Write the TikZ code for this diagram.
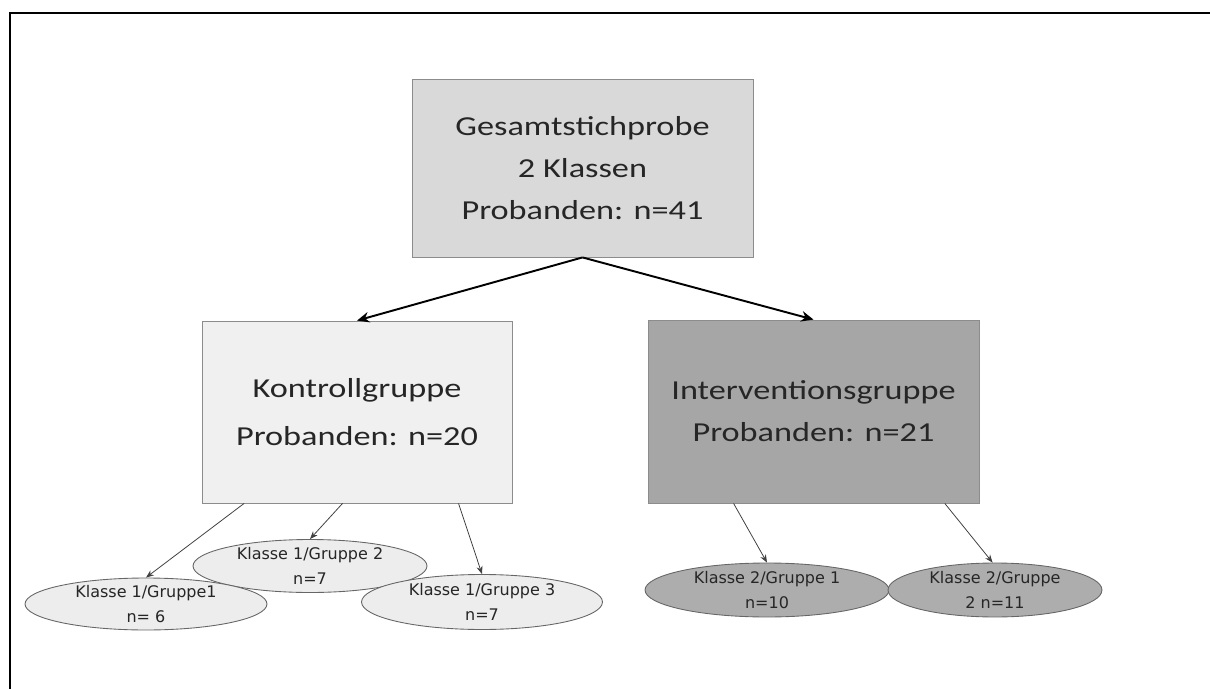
\documentclass[tikz,border=0pt]{standalone}
\usepackage{fontspec}
\usetikzlibrary{shapes.geometric,arrows.meta}
\newfontfamily\boxfont[FakeStretch=1.25]{Carlito}
\newfontfamily\ellfont{DejaVu Sans}

\begin{document}
\begin{tikzpicture}[x=0.02cm, y=-0.02cm,
		box/.style={draw=black!45, line width=0.5pt, text=black!85, align=center, inner sep=0pt, font=\boxfont\fontsize{15.6}{24}\selectfont},
		grp/.style={ellipse, draw=black!60, line width=0.5pt, text=black!85, align=center, inner xsep=0pt, inner ysep=-1.5pt, font=\ellfont\fontsize{9.1}{14.2}\selectfont},
		bigarrow/.style={line width=1.1pt, -{Stealth[length=7pt,width=6pt]}},
		smallarrow/.style={line width=0.45pt, color=black!75, -{Stealth[length=4.5pt,width=3.5pt]}}]
		%%%%% START %%%%%
		
		\useasboundingbox (0,0) rectangle (1210,689);
		\draw[line width=1pt] (10,689) -- (10,13) -- (1210,13);
		
		\node[box, fill=black!15, minimum width=6.82cm, minimum height=3.56cm] (gesamt) at (582.5,168) {Gesamtstichprobe\\2 Klassen\\Probanden: n=41};
		
		\node[box, fill=black!6, minimum width=6.2cm, minimum height=3.64cm, font=\boxfont\fontsize{15.6}{27}\selectfont] (kontroll) at (357,412) {Kontrollgruppe\\Probanden: n=20};
		\node[box, fill=black!35, minimum width=6.62cm, minimum height=3.66cm] (interv) at (813.5,411.5) {Interventionsgruppe\\Probanden: n=21};
		
		\draw[bigarrow] (gesamt.south) -- (kontroll.north);
		\draw[bigarrow] (gesamt.south) -- (interv.north);
		
		\node[grp, fill=black!7, minimum width=4.68cm, minimum height=1.06cm] (k2) at (310,566) {Klasse 1/Gruppe 2\\n=7};
		\node[grp, fill=black!7, minimum width=4.84cm, minimum height=1.04cm] (k1) at (146,604) {Klasse 1/Gruppe1\\n= 6};
		\node[grp, fill=black!7, minimum width=4.82cm, minimum height=1.1cm] (k3) at (482,602) {Klasse 1/Gruppe 3\\n=7};
		
		\node[grp, fill=black!32, minimum width=4.88cm, minimum height=1.08cm] (i1) at (767,590) {Klasse 2/Gruppe 1\\n=10};
		\node[grp, fill=black!32, minimum width=4.28cm, minimum height=1.08cm] (i2) at (995,590) {Klasse 2/Gruppe\\2 n=11};
		
		\draw[smallarrow] (kontroll.219) -- (k1.north);
		\draw[smallarrow] (kontroll.261) -- (k2.north);
		\draw[smallarrow] (kontroll.318) -- (k3.north);
		\draw[smallarrow] (interv.229) -- (i1.north);
		\draw[smallarrow] (interv.325) -- (i2.95);
		
		%%%%% END %%%%%
\end{tikzpicture}
\end{document}
